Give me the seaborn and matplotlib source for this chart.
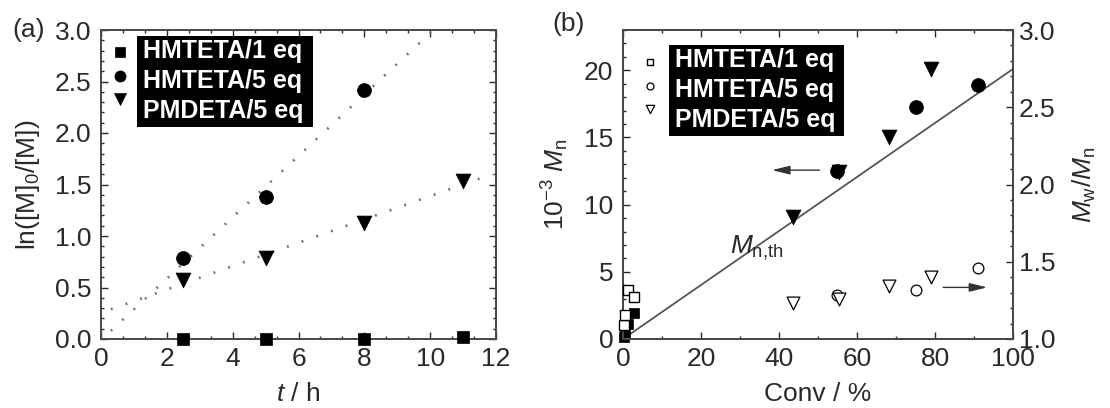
import numpy as np
import pandas as pd
import matplotlib
matplotlib.use("Agg")
import matplotlib.pyplot as plt
import seaborn as sns
from matplotlib.patches import Rectangle
from matplotlib.lines import Line2D
from matplotlib.ticker import MultipleLocator, FormatStrFormatter

# ---- Panel (a): first-order kinetic plots ----
t_1eq = [2.5, 5.0, 8.0, 11.0]
ln_hmteta_1eq = [0.0, 0.0, 0.0, 0.02]
t_hmteta_5eq = [2.5, 5.0, 8.0]
ln_hmteta_5eq = [0.79, 1.38, 2.42]
t_pmdeta_5eq = [2.5, 5.0, 8.0, 11.0]
ln_pmdeta_5eq = [0.57, 0.79, 1.13, 1.53]

# ---- Panel (b): Mn and Mw/Mn vs. conversion ----
conv_hmteta_1eq = [0.3, 0.5, 1.4, 2.9]
mn_hmteta_1eq = [0.15, 0.45, 1.1, 1.9]
pdi_hmteta_1eq = [1.09, 1.155, 1.32, 1.27]

conv_hmteta_5eq = [54.8, 75.0, 91.1]
mn_hmteta_5eq = [12.5, 17.3, 18.9]
pdi_hmteta_5eq = [1.284, 1.32, 1.46]

conv_pmdeta_5eq = [43.5, 55.5, 68.1, 78.9]
mn_pmdeta_5eq = [9.1, 12.4, 15.0, 20.1]
pdi_pmdeta_5eq = [1.23, 1.26, 1.34, 1.40]

conv_theory = [0.0, 100.0]
mn_theory = [0.0, 20.1]

labels = ["HMTETA/1 eq", "HMTETA/5 eq", "PMDETA/5 eq"]

sns.set_theme(style="ticks")
plt.rcParams["font.family"] = ["Liberation Sans", "DejaVu Sans"]
plt.rcParams["mathtext.fontset"] = "custom"
plt.rcParams["mathtext.rm"] = "Liberation Sans"
plt.rcParams["mathtext.it"] = "Liberation Sans:italic"
plt.rcParams["mathtext.bf"] = "Liberation Sans:bold"

FS = 19
LEG_FS = 18
INK = "#2a2a2a"

fig = plt.figure(figsize=(11.1, 4.08), dpi=100)
ax_a = fig.add_axes([101 / 1110, 69 / 408, 395 / 1110, 309 / 408])
ax_b = fig.add_axes([623 / 1110, 69 / 408, 390 / 1110, 309 / 408])
ax_b2 = ax_b.twinx()


def style_axis(ax, **kw):
    ax.tick_params(which="both", direction="in", labelsize=FS, colors=INK,
                   width=1.0, **kw)
    ax.tick_params(which="major", length=5)
    ax.tick_params(which="minor", length=2.5)
    for sp in ax.spines.values():
        sp.set_linewidth(1.4)
        sp.set_color("#484848")


# ---------------- panel (a) ----------------
for t, y in [(t_hmteta_5eq, ln_hmteta_5eq), (t_pmdeta_5eq, ln_pmdeta_5eq)]:
    slope, icpt = np.polyfit(t, y, 1)
    tt = np.array([0.3, 11.9])
    sns.lineplot(x=tt, y=slope * tt + icpt, ax=ax_a, color="#6e6e6e",
                 linewidth=1.9, linestyle=(0, (0.7, 5.2)), zorder=1)

sns.scatterplot(x=t_1eq, y=ln_hmteta_1eq, ax=ax_a, marker="s", s=80,
                color="black", edgecolor="black", linewidth=0.5,
                clip_on=False, zorder=3, label=labels[0])
sns.scatterplot(x=t_hmteta_5eq, y=ln_hmteta_5eq, ax=ax_a, marker="o", s=100,
                color="black", edgecolor="black", linewidth=0.5,
                zorder=3, label=labels[1])
sns.scatterplot(x=t_pmdeta_5eq, y=ln_pmdeta_5eq, ax=ax_a, marker="v", s=115,
                color="black", edgecolor="black", linewidth=0.5,
                zorder=3, label=labels[2])

ax_a.set_xlim(0, 12)
ax_a.set_ylim(0, 3)
ax_a.xaxis.set_major_locator(MultipleLocator(2))
ax_a.xaxis.set_minor_locator(MultipleLocator(2 / 3))
ax_a.yaxis.set_major_locator(MultipleLocator(0.5))
ax_a.yaxis.set_minor_locator(MultipleLocator(0.1))
ax_a.yaxis.set_major_formatter(FormatStrFormatter("%.1f"))
style_axis(ax_a, top=True, right=True)
ax_a.tick_params(axis="x", pad=6)
ax_a.tick_params(axis="y", pad=7)
ax_a.set_xlabel(r"$t$ / h", fontsize=FS, color=INK, labelpad=8)
ax_a.set_ylabel(r"ln([M]$_0$/[M])", fontsize=FS, color=INK, labelpad=9)

# ---------------- panel (b) ----------------
sns.lineplot(x=conv_theory, y=mn_theory, ax=ax_b, color="#555555",
             linewidth=1.3, zorder=1)
sns.scatterplot(x=conv_hmteta_1eq, y=mn_hmteta_1eq, ax=ax_b, marker="s", s=60,
                color="black", edgecolor="black", linewidth=0.5,
                clip_on=False, zorder=3)
sns.scatterplot(x=conv_hmteta_5eq, y=mn_hmteta_5eq, ax=ax_b, marker="o", s=100,
                color="black", edgecolor="black", linewidth=0.5, zorder=3)
sns.scatterplot(x=conv_pmdeta_5eq, y=mn_pmdeta_5eq, ax=ax_b, marker="v", s=115,
                color="black", edgecolor="black", linewidth=0.5, zorder=3)
ax_b.text(27.4, 6.37, r"$M_\mathrm{n{,}th}$", fontsize=FS, color=INK,
          ha="left", va="baseline")
arrow_style = dict(arrowstyle="-|>,head_length=0.9,head_width=0.22",
                   color="#333333", lw=1.0, shrinkA=0, shrinkB=0)
ax_b.annotate("", xy=(38.2, 12.57), xytext=(50.4, 12.57),
              arrowprops=arrow_style)

sns.scatterplot(x=conv_hmteta_1eq, y=pdi_hmteta_1eq, ax=ax_b2, marker="s",
                s=55, color="white", edgecolor="black", linewidth=1.0,
                clip_on=False, zorder=3, label=labels[0])
sns.scatterplot(x=conv_hmteta_5eq, y=pdi_hmteta_5eq, ax=ax_b2, marker="o",
                s=60, color="white", edgecolor="black", linewidth=0.9,
                zorder=3, label=labels[1])
sns.scatterplot(x=conv_pmdeta_5eq, y=pdi_pmdeta_5eq, ax=ax_b2, marker="v",
                s=85, color="white", edgecolor="black", linewidth=0.9,
                zorder=3, label=labels[2])
ax_b2.annotate("", xy=(93.4, 1.334), xytext=(82.1, 1.334),
               arrowprops=arrow_style)

ax_b.set_xlim(0, 100)
ax_b.set_ylim(0, 23)
ax_b2.set_ylim(1.0, 3.0)
ax_b.xaxis.set_major_locator(MultipleLocator(20))
ax_b.xaxis.set_minor_locator(MultipleLocator(10))
ax_b.yaxis.set_major_locator(MultipleLocator(5))
ax_b.yaxis.set_minor_locator(MultipleLocator(1))
ax_b2.yaxis.set_major_locator(MultipleLocator(0.5))
ax_b2.yaxis.set_minor_locator(MultipleLocator(0.1))
ax_b2.yaxis.set_major_formatter(FormatStrFormatter("%.1f"))
style_axis(ax_b, top=True, right=False)
style_axis(ax_b2, left=False, right=True)
ax_b.tick_params(axis="x", pad=6)
ax_b.tick_params(axis="y", pad=7)
ax_b2.tick_params(axis="y", pad=4)
ax_b.set_xlabel("Conv / %", fontsize=FS, color=INK, labelpad=8)
ax_b.set_ylabel(r"10$^{-3}$ $M_\mathrm{n}$", fontsize=FS, color=INK, labelpad=9)
ax_b2.set_ylabel(r"$M_\mathrm{w}$/$M_\mathrm{n}$", fontsize=FS, color=INK,
                 labelpad=11)

fig.text(12 / 1110, 1 - 30 / 408, "(a)", fontsize=FS, color=INK,
         ha="left", va="center")
fig.text(552 / 1110, 1 - 24 / 408, "(b)", fontsize=FS, color=INK,
         ha="left", va="center")


# ---------------- legends: symbols column + black label panel ----------------
def px_to_axes(ax, x_px, y_px_from_top):
    fig_h = fig.get_size_inches()[1] * fig.dpi
    return ax.transAxes.inverted().transform((x_px, fig_h - y_px_from_top))


def symbol_legend(ax, left_px, top_px, markerscale):
    handles, _ = ax.get_legend_handles_labels()
    leg = ax.legend(handles, [""] * len(handles), loc="upper left",
                    bbox_to_anchor=px_to_axes(ax, left_px, top_px),
                    frameon=False, borderpad=0, borderaxespad=0,
                    prop=dict(size=10), handlelength=1.0, handleheight=2.2,
                    handletextpad=0, labelspacing=0, markerscale=markerscale)
    ax.add_artist(leg)
    return leg


def label_legend(ax, left_px, top_px):
    proxies = [Line2D([], [], linestyle="none", marker="none") for _ in labels]
    leg = ax.legend(proxies, labels, loc="upper left",
                    bbox_to_anchor=px_to_axes(ax, left_px, top_px),
                    frameon=False, borderpad=0, borderaxespad=0,
                    prop=dict(family="Liberation Sans", weight="bold",
                              size=LEG_FS),
                    handlelength=0, handletextpad=0, labelspacing=0.25)
    leg.set_zorder(6)
    for txt in leg.get_texts():
        txt.set_color("white")
    return leg


symbol_legend(ax_a, 113, 45, 0.8)
lab_a = label_legend(ax_a, 143, 39)
symbol_legend(ax_b2, 643, 55, 0.65)
lab_b = label_legend(ax_b2, 675, 48)

fig.canvas.draw()
renderer = fig.canvas.get_renderer()
for ax, leg in [(ax_a, lab_a), (ax_b2, lab_b)]:
    boxes = [t.get_window_extent(renderer) for t in leg.get_texts()]
    x0 = min(b.x0 for b in boxes) - 6
    x1 = max(b.x1 for b in boxes) + 9
    y0 = min(b.y0 for b in boxes) - 4
    y1 = max(b.y1 for b in boxes) + 3
    inv = ax.transAxes.inverted()
    (ax0, ay0), (ax1, ay1) = inv.transform([(x0, y0), (x1, y1)])
    ax.add_patch(Rectangle((ax0, ay0), ax1 - ax0, ay1 - ay0,
                           transform=ax.transAxes, facecolor="black",
                           edgecolor="none", zorder=5.5, clip_on=False))

fig.savefig("out.png", dpi=100, facecolor="white")
